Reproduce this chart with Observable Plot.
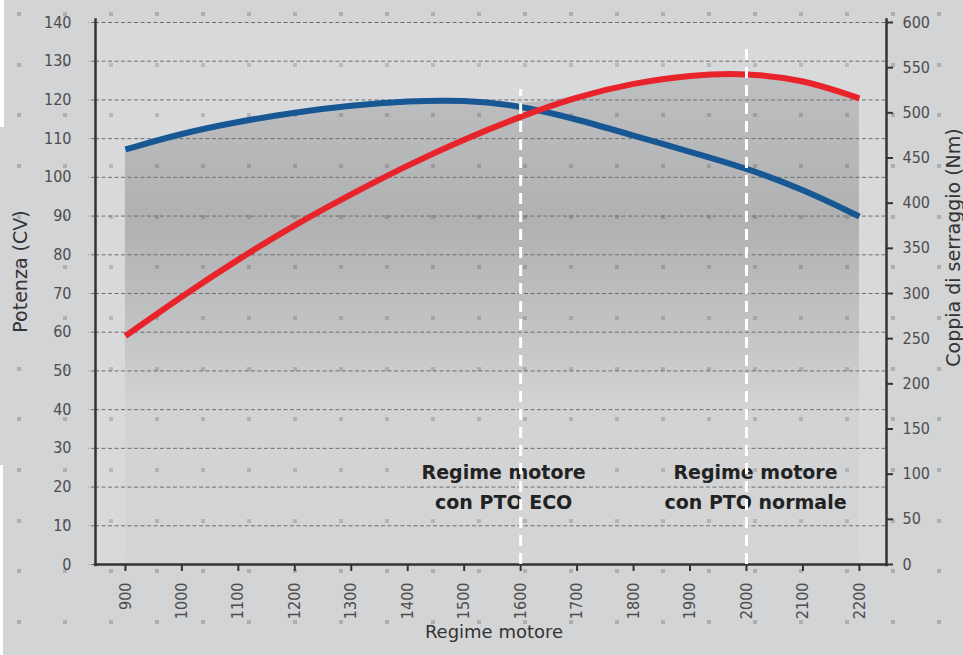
<!DOCTYPE html>
<html>
<head>
<meta charset="utf-8">
<script src="https://cdn.jsdelivr.net/npm/d3@7"></script>
<script src="https://cdn.jsdelivr.net/npm/@observablehq/plot@0.6"></script>
<style>
  html, body { margin: 0; padding: 0; }
  body { width: 963px; height: 655px; overflow: hidden; background: #d3d4d6; }
  #wrap {
    position: relative; width: 963px; height: 655px;
    background-color: #d3d4d6;
    background-image: url("data:image/svg+xml,%3Csvg xmlns='http://www.w3.org/2000/svg' width='46' height='50.67'%3E%3Crect width='4' height='4' fill='%23adaeb0'/%3E%3C/svg%3E");
    background-size: 46px 50.67px;
    background-position: 17px 12px;
  }
  #wrap svg { position: absolute; left: 0; top: 0; }
  .edge { position: absolute; left: 0; width: 4px; background: #fff; }
</style>
</head>
<body>
<div id="wrap">
  <div class="edge" style="top:0;height:127px"></div>
  <div class="edge" style="top:465px;height:190px;width:3px"></div>
</div>
<script>
// ---- data ----
const rpm = [900, 1000, 1100, 1200, 1300, 1400, 1500, 1600, 1700, 1800, 1900, 2000, 2100, 2200];
const powerCV = [107.2, 111.4, 114.4, 116.8, 118.6, 119.7, 120.0, 118.5, 115.0, 110.8, 106.6, 102.4, 96.9, 89.9];
const torqueNm = [253, 297, 338, 376, 410, 442, 471, 496, 518, 533, 542, 544, 537, 516];
const leftTicks = [0, 10, 20, 30, 40, 50, 60, 70, 80, 90, 100, 110, 120, 130, 140];
const rightTicks = [0, 50, 100, 150, 200, 250, 300, 350, 400, 450, 500, 550, 600];
const rpmTicks = [900, 1000, 1100, 1200, 1300, 1400, 1500, 1600, 1700, 1800, 1900, 2000, 2100, 2200];
const xDomain = [847, 2248];
const ptoRpm = [1600, 2000];
const ptoTop = [122.7, 133.8];
const ptoLabels = ["Regime motore\ncon PTO ECO", "Regime motore\ncon PTO normale"];

const k = leftTicks[leftTicks.length - 1] / rightTicks[rightTicks.length - 1];
const table = rpm.map((r, i) => ({
  rpm: r,
  power: powerCV[i],
  torque: torqueNm[i] * k,
  env: Math.max(powerCV[i], torqueNm[i] * k)
}));
const pto = ptoRpm.map((r, i) => ({rpm: r, top: ptoTop[i], label: ptoLabels[i]}));

const tickFont = "'Liberation Sans Narrow', 'DejaVu Sans Condensed', sans-serif";
const titleFont = "'DejaVu Sans', sans-serif";
const annot = {y: 20.7, text: "label", lineAnchor: "middle", lineHeight: 1.55, fontFamily: titleFont, fontWeight: "bold", fontSize: 19, fill: "#222"};

const chart = Plot.plot({
  width: 963,
  height: 655,
  marginLeft: 95,
  marginRight: 77,
  marginTop: 22,
  marginBottom: 91,
  x: {domain: xDomain},
  y: {domain: [0, 140]},
  style: {background: "transparent", fontFamily: tickFont, fontSize: "16px", color: "#4d4d4d", overflow: "visible"},
  marks: [
    Plot.frame({fill: "#ffffff", fillOpacity: 0.13, stroke: null}),
    Plot.areaY(table, {x: "rpm", y1: 0, y2: "env", curve: "basis", fill: "url(#shade)"}),
    Plot.ruleY(leftTicks.filter(d => d > 0), {stroke: "#6e6e6e", strokeWidth: 1, strokeDasharray: "4,2.5"}),
    Plot.axisY(leftTicks, {anchor: "left", tickSize: 7, tickPadding: 17, label: null, stroke: "#6e6e6e", strokeDasharray: "4,2.5", fill: "#4d4d4d", fontSize: 16}),
    Plot.axisY(rightTicks.map(t => t * k), {anchor: "right", tickSize: 6, tickPadding: 10, label: null, tickFormat: d => Math.round(d / k), stroke: "#333", strokeWidth: 2, fill: "#4d4d4d", fontSize: 16}),
    Plot.axisX(rpmTicks, {anchor: "bottom", tickSize: 7, tickPadding: 11, tickRotate: -90, label: null, tickFormat: d => String(d), stroke: "#333", strokeWidth: 2, fill: "#4d4d4d", fontSize: 16}),
    Plot.ruleX(xDomain, {y1: -0.6, y2: 141, stroke: "#333", strokeWidth: 2.5}),
    Plot.ruleY([0], {x1: 845, x2: 2250, stroke: "#333", strokeWidth: 2.5}),
    Plot.line(table, {x: "rpm", y: "power", stroke: "#175793", strokeWidth: 6, curve: "basis", strokeLinecap: "butt"}),
    Plot.line(table, {x: "rpm", y: "torque", stroke: "#e8232a", strokeWidth: 6, curve: "basis", strokeLinecap: "butt"}),
    Plot.text(pto.slice(0, 1), {x: "rpm", dx: -17, ...annot}),
    Plot.text(pto.slice(1, 2), {x: "rpm", dx: 9, ...annot}),
    Plot.ruleX(pto, {x: "rpm", y1: 0, y2: "top", stroke: "#ffffff", strokeWidth: 3, strokeDasharray: "11,7"}),
    Plot.text(["Potenza (CV)"], {frameAnchor: "left", dx: -75, dy: -22, rotate: -90, textAnchor: "middle", fontFamily: titleFont, fontSize: 19, fill: "#333"}),
    Plot.text(["Coppia di serraggio (Nm)"], {frameAnchor: "right", dx: 67, dy: -46, rotate: -90, textAnchor: "middle", fontFamily: titleFont, fontSize: 19, fill: "#333"}),
    Plot.text(["Regime motore"], {frameAnchor: "bottom", dx: 3, dy: 73, fontFamily: titleFont, fontSize: 18, fill: "#333"})
  ]
});

const defs = d3.select(chart).insert("defs", ":first-child");
const g = defs.append("linearGradient").attr("id", "shade").attr("x1", 0).attr("x2", 0).attr("y1", 0).attr("y2", 1);
[[0, 0.12], [0.3, 0.185], [0.5, 0.11], [0.68, 0.03], [1, 0.02]].forEach(([o, a]) =>
  g.append("stop").attr("offset", o).attr("stop-color", "#000").attr("stop-opacity", a));

document.getElementById("wrap").appendChild(chart);
</script>
</body>
</html>
